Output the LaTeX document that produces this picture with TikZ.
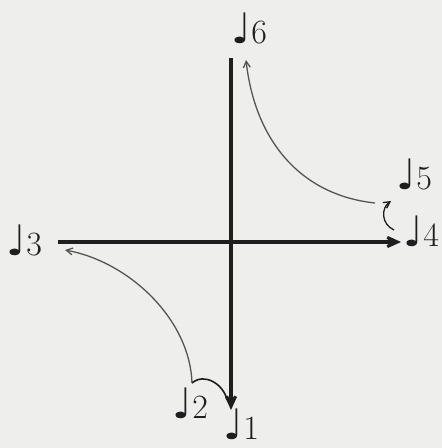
\documentclass[tikz,border=0pt]{standalone}
\usepackage{fontspec}
\usepackage{xcolor}
\usepackage{tikz}
\usetikzlibrary{arrows.meta}
\newfontfamily\notefont{DejaVu Sans}
\definecolor{paper}{RGB}{238,238,236}
\definecolor{ink}{RGB}{30,30,30}
\definecolor{pencil}{RGB}{85,85,85}
\tikzset{
  axis/.style={draw=ink, line width=3.2pt, -{Straight Barb[length=3.5mm,width=3.2mm]}},
  curve/.style={draw=pencil, line width=1.3pt, -{Straight Barb[length=2.2mm,width=2.4mm]}},
  hook/.style={draw=ink, line width=1.6pt},
  tone/.style={text=ink, inner sep=0pt, font=\fontsize{34}{37}\selectfont}
}
\newcommand{\tonelabel}[1]{{\notefont\fontsize{42}{44}\selectfont ♩}\kern0.5pt#1}

\begin{document}
\begin{tikzpicture}[x=1pt, y=-1pt]
  \fill[paper] (0,0) rectangle (442,448);
  \useasboundingbox (0,0) rectangle (442,448);

  \node[tone] (n6) at (249,28) {\tonelabel{6}};
  \node[tone] (n3) at (24,240) {\tonelabel{3}};
  \node[tone] (n5) at (414,174) {\tonelabel{5}};
  \node[tone] (n4) at (421,231) {\tonelabel{4}};
  \node[tone] (n2) at (190,403) {\tonelabel{2}};
  \node[tone] (n1) at (241,424) {\tonelabel{1}};

  \coordinate (top) at (231,58);
  \coordinate (bot) at (231,410);
  \coordinate (left) at (58,242);
  \coordinate (right) at (401,242);

  \draw[axis] (left) -- (right);
  \draw[axis] (top) -- (bot);

  \coordinate (s5) at (375,203);
  \coordinate (e6) at (246,60);
  \coordinate (s2) at (192,383);
  \coordinate (e3) at (65,250);
  \coordinate (s4) at (394,230);
  \coordinate (e5) at (391,201);
  \coordinate (e1) at (227,400);

  \draw[curve] (s5) .. controls (300,195) and (255,140) .. (e6);
  \draw[curve] (s2) .. controls (190,320) and (130,262) .. (e3);
  \draw[curve, draw=ink] (s4) .. controls (381,224) and (381,208) .. (e5);
  \draw[hook] (s2) .. controls (205,372) and (224,385) .. (e1);
\end{tikzpicture}
\end{document}
